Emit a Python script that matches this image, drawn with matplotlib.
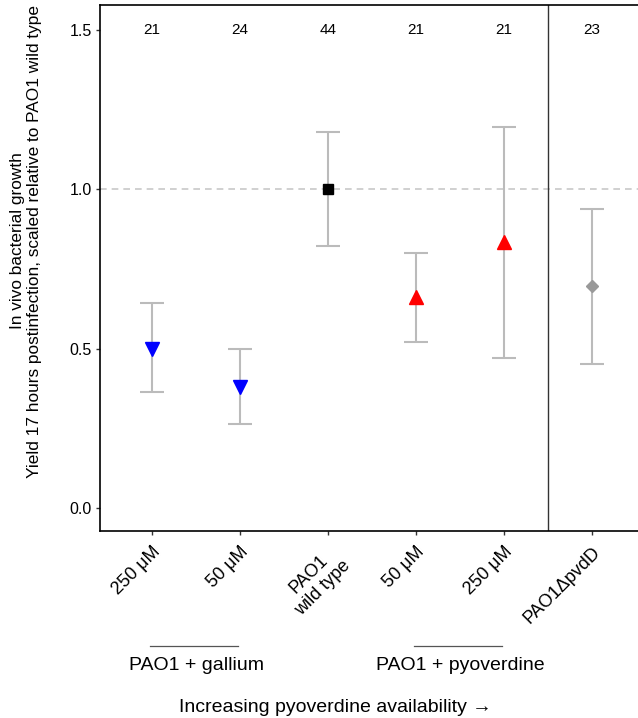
import numpy as np
import matplotlib
matplotlib.use("Agg")
import matplotlib.pyplot as plt
import matplotlib.transforms as mtransforms

plt.rcParams['font.family'] = ['Liberation Sans', 'DejaVu Sans']

# data
labels = ["250 μM", "50 μM", "PAO1\nwild type", "50 μM", "250 μM", "PAO1ΔpvdD"]
means = [0.50, 0.379, 1.0, 0.661, 0.834, 0.696]
upper = [0.643, 0.50, 1.179, 0.799, 1.194, 0.937]
lower = [0.364, 0.263, 0.821, 0.520, 0.470, 0.451]
counts = [21, 24, 44, 21, 21, 23]
markers = ["v", "v", "s", "^", "^", "D"]
colors = ["#0000ff", "#0000ff", "#000000", "#ff0000", "#ff0000", "#999999"]
msizes = [10, 10, 7.5, 10, 10, 6]

x = np.arange(1, len(labels) + 1)

fig = plt.figure(figsize=(6.38, 7.18), dpi=100)
ax = fig.add_axes([100/638, 187/718, 560/638, 526/718])

ax.axhline(1.0, color="#c8c8c8", lw=1.2, ls=(0, (4, 3)), zorder=1)
ax.axvline(5.5, color="#333333", lw=1.0, zorder=1)

for i in range(len(x)):
    err = [[means[i] - lower[i]], [upper[i] - means[i]]]
    ax.errorbar(x[i], means[i], yerr=err, fmt="none", ecolor="#bbbbbb",
                elinewidth=1.5, capsize=8.5, capthick=1.5, zorder=2)
    ax.plot(x[i], means[i], marker=markers[i], color=colors[i],
            markersize=msizes[i], ls="none", zorder=3)
    ax.text(x[i], 1.5, str(counts[i]), ha="center", va="center", fontsize=11)

ax.set_xlim(0.409, 6.77)
ax.set_ylim(-0.072, 1.578)
ax.set_yticks([0.0, 0.5, 1.0, 1.5])
ax.set_yticklabels(["0.0", "0.5", "1.0", "1.5"], fontsize=11.5)
ax.set_xticks(x)
ax.set_xticklabels(labels, rotation=45, ha="right", rotation_mode="anchor",
                   fontsize=13, multialignment="center")
ax.tick_params(axis="both", length=3, width=1, color="#333333", pad=3)
ax.tick_params(axis="x", pad=6)
for s in ["left", "bottom", "top"]:
    ax.spines[s].set_linewidth(1.2)
ax.spines["right"].set_visible(False)

# group lines under the x labels
trans = mtransforms.blended_transform_factory(ax.transData, fig.transFigure)
for a, b in [(1, 2), (4, 5)]:
    ax.plot([a - 0.02, b - 0.02], [72/718, 72/718], color="#555555", lw=0.9,
            transform=trans, clip_on=False)
ax.text(1.5, 52/718, "PAO1 + gallium", transform=trans, ha="center",
        va="center", fontsize=14)
ax.text(4.5, 52/718, "PAO1 + pyoverdine", transform=trans, ha="center",
        va="center", fontsize=14)
fig.text(335/638, 11/718, "Increasing pyoverdine availability →",
         ha="center", va="center", fontsize=14)

fig.text(26/638, 1 - 241/718,
         "In vivo bacterial growth\nYield 17 hours postinfection, scaled relative to PAO1 wild type",
         rotation=90, ha="center", va="center", fontsize=12.4, multialignment="center")

fig.savefig("out.png", dpi=100)
